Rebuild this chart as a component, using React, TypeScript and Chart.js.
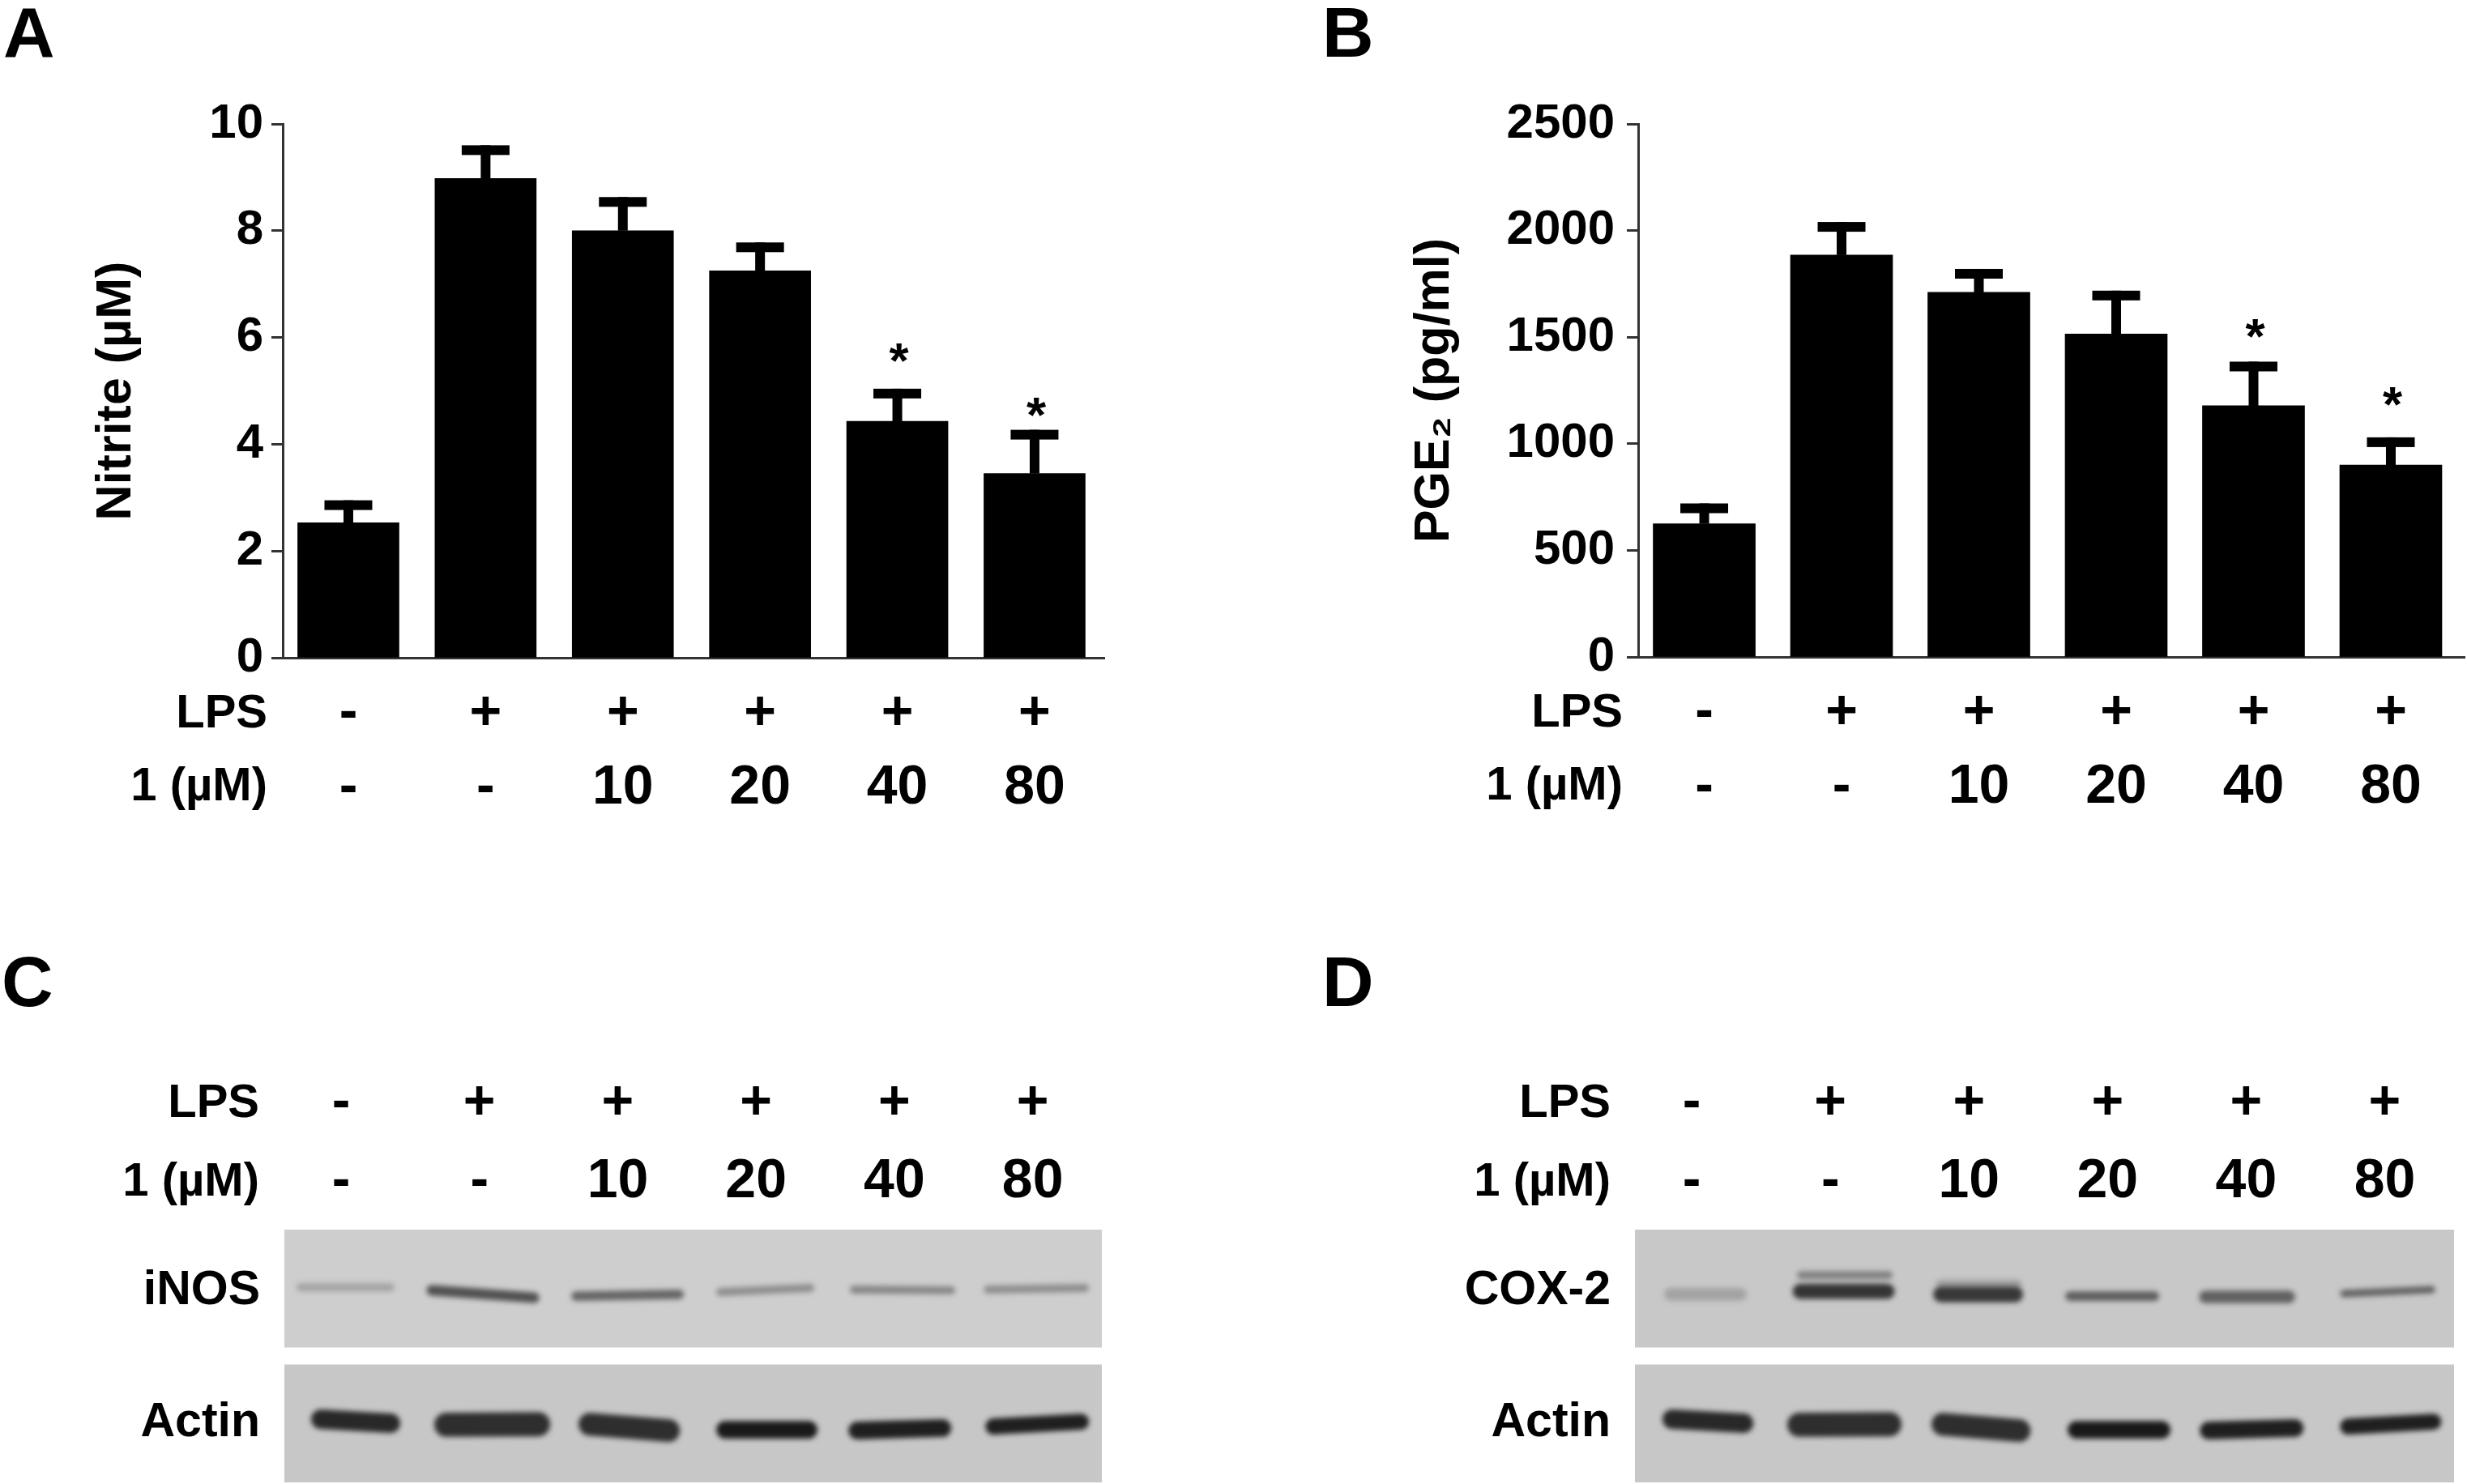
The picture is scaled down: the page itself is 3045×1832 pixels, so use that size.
import React, { useEffect, useRef } from "react";
import { Chart, registerables } from "chart.js";

Chart.register(...registerables);

const FONT = '"Liberation Sans", Arial, sans-serif';

const lanes = [1, 2, 3, 4, 5, 6];
const lpsRow = ["-", "+", "+", "+", "+", "+"];
const doseRow = ["-", "-", "10", "20", "40", "80"];

const nitriteMean = [2.53, 8.98, 8.0, 7.25, 4.43, 3.45];
const nitriteUpper = [2.95, 9.6, 8.63, 7.78, 5.04, 4.27];
const nitriteStars = [null, null, null, null, 5.8, 4.78];
const nitriteTicks = [0, 2, 4, 6, 8, 10];

const pgeMean = [625, 1885, 1710, 1515, 1178, 900];
const pgeUpper = [720, 2040, 1820, 1718, 1385, 1030];
const pgeStars = [null, null, null, null, 1561, 1243];

// Blot bands: lane position start/end, migration level start/end, band spread, density
const inosStart = [0.707, 1.656, 2.699, 3.742, 4.708, 5.675];
const inosEnd = [1.357, 2.394, 3.443, 4.392, 5.411, 6.378];
const inosLevelA = [77.2, 76, 73.7, 75.3, 76.3, 76.3];
const inosLevelB = [77.2, 73.1, 74.4, 76.9, 76, 76.9];
const inosSpread = [3.2, 4.2, 3.8, 3.2, 3.2, 3.2];
const inosDensity = [0.28, 0.68, 0.58, 0.38, 0.42, 0.38];

const actinCStart = [0.854, 1.762, 2.799, 3.777, 4.732, 5.716];
const actinCEnd = [1.357, 2.424, 3.367, 4.38, 5.347, 6.349];
const actinLevelA = [25, 22.8, 23, 20.8, 20.5, 22.1];
const actinLevelB = [23.4, 23, 20.5, 20.8, 21.5, 24];
const actinSpread = [7.7, 9.6, 9, 7, 7, 6.4];
const actinDensity = [0.88, 0.85, 0.85, 0.95, 0.92, 0.92];

const coxStart = [0.847, 1.783, 1.789, 2.8, 2.794, 3.73, 4.706, 5.705];
const coxEnd = [1.35, 2.409, 2.42, 3.332, 3.35, 4.338, 5.308, 6.338];
const coxLevelA = [74.4, 75.6, 82, 74.4, 78.5, 73.7, 73.4, 74.7];
const coxLevelB = [74.4, 75.6, 82, 74.4, 78.5, 73.7, 73.4, 76.3];
const coxSpread = [5, 6, 3.2, 6.4, 3.2, 3.8, 5, 2.9];
const coxDensity = [0.28, 0.82, 0.45, 0.8, 0.3, 0.62, 0.6, 0.6];

const actinDStart = [0.859, 1.777, 2.812, 3.776, 4.73, 5.736];
const actinDEnd = [1.374, 2.426, 3.362, 4.39, 5.35, 6.35];

const AXIS = "#333333";

function textPlugin(id: string, items: any[]) {
  return {
    id,
    afterDraw(chart: any) {
      const { ctx, chartArea } = chart;
      ctx.save();
      ctx.fillStyle = "#000";
      for (const it of items) {
        ctx.font = `bold ${it.size}px ${FONT}`;
        ctx.textAlign = it.align;
        ctx.textBaseline = it.baseline;
        const x = it.fromLeft !== undefined ? chartArea.left - it.fromLeft : it.x;
        const y =
          it.fromBottom !== undefined
            ? chartArea.bottom + it.fromBottom
            : it.fromTop !== undefined
            ? chartArea.top - it.fromTop
            : it.y;
        ctx.fillText(it.text, x, y);
      }
      ctx.restore();
    },
  };
}

const errorPlugin = {
  id: "errorBars",
  afterDatasetsDraw(chart: any) {
    const { ctx, scales } = chart;
    const o = chart.config.options.errorBars;
    ctx.save();
    ctx.fillStyle = "#000";
    o.mean.forEach((m: number, i: number) => {
      const x = scales.x.getPixelForValue(lanes[i]);
      const yTop = scales.y.getPixelForValue(o.upper[i]);
      const yBase = scales.y.getPixelForValue(m);
      ctx.fillRect(x - o.stem / 2, yTop, o.stem, yBase - yTop);
      ctx.fillRect(x - o.cap / 2, yTop, o.cap, o.capHeight);
      if (o.stars[i] !== null) {
        ctx.font = `bold 62px ${FONT}`;
        ctx.textAlign = "center";
        ctx.textBaseline = "alphabetic";
        ctx.fillText("*", x + 2, scales.y.getPixelForValue(o.stars[i]) + 36);
      }
    });
    ctx.restore();
  },
};

const blurPlugin = {
  id: "bandBlur",
  beforeDatasetDraw(chart: any, args: any) {
    if (args.meta.type !== "line") return;
    chart.ctx.save();
    chart.ctx.filter = "blur(3px)";
  },
  afterDatasetDraw(chart: any, args: any) {
    if (args.meta.type !== "line") return;
    chart.ctx.restore();
  },
};

function barChart(canvas: HTMLCanvasElement, p: any) {
  return new Chart(canvas, {
    type: "bar",
    data: {
      datasets: [
        {
          data: lanes.map((x, i) => ({ x, y: p.mean[i] })),
          backgroundColor: "#000",
          barThickness: p.barWidth,
        },
      ],
    },
    options: {
      animation: false,
      responsive: false,
      layout: { padding: { top: p.top, right: p.right, left: 0, bottom: 0 } },
      plugins: { legend: { display: false }, tooltip: { enabled: false } },
      errorBars: { mean: p.mean, upper: p.upper, stars: p.stars, stem: 12, cap: 59, capHeight: 12 },
      scales: {
        x: {
          type: "linear",
          offset: false,
          min: p.xMin,
          max: p.xMax,
          afterBuildTicks: (a: any) => {
            a.ticks = lanes.map((value) => ({ value }));
          },
          afterFit: (s: any) => {
            s.height = p.xHeight;
            s.paddingLeft = 0;
            s.paddingRight = 0;
          },
          grid: { display: false, drawTicks: false },
          border: { display: true, color: AXIS, width: 3 },
          ticks: {
            autoSkip: false,
            maxRotation: 0,
            padding: 23,
            color: "#000",
            font: { family: FONT, weight: "bold", size: 68, lineHeight: 92 / 68 },
            callback: (v: number) => [lpsRow[v - 1], doseRow[v - 1]],
          },
        },
        y: {
          min: 0,
          max: p.yMax,
          afterFit: (s: any) => {
            s.width = p.yWidth;
            s.paddingTop = 0;
            s.paddingBottom = 0;
          },
          grid: { drawOnChartArea: false, tickLength: 14, tickWidth: 3, tickColor: AXIS },
          border: { display: true, color: AXIS, width: 3 },
          ticks: {
            stepSize: p.yStep,
            padding: p.tickPad,
            color: "#000",
            font: { family: FONT, weight: "bold", size: 60 },
            callback: (v: number) => String(v),
          },
          title: {
            display: true,
            text: p.title,
            color: "#000",
            padding: { top: p.titlePad, bottom: 0 },
            font: { family: FONT, weight: "bold", size: 61 },
          },
        },
      },
    } as any,
    plugins: [errorPlugin, textPlugin("labels", p.texts)],
  });
}

function bandSets(start: number[], end: number[], a: number[], b: number[], spread: number[], density: number[]) {
  return start.map((s, i) => {
    const g = Math.round(205 * (1 - density[i]) + 15);
    return {
      type: "line",
      order: 1,
      data: [
        { x: s, y: a[i] },
        { x: end[i], y: b[i] },
      ],
      borderColor: `rgb(${g},${g},${g})`,
      borderWidth: spread[i] * 3.12,
      borderCapStyle: "round",
      pointRadius: 0,
    };
  });
}

function stripSet(levels: number[], color: string) {
  return {
    type: "bar",
    order: 2,
    grouped: false,
    data: [{ x: 3.545, y: levels }],
    backgroundColor: color,
    barThickness: 1040,
  };
}

function blotChart(canvas: HTMLCanvasElement, p: any) {
  return new Chart(canvas, {
    type: "bar",
    data: {
      datasets: [
        stripSet([53.5, 100], p.topColor),
        stripSet([0, 46.5], "#c7c7c7"),
        ...p.bands,
      ],
    },
    options: {
      animation: false,
      responsive: false,
      layout: { padding: { top: 0, right: p.right, left: 0, bottom: 2 } },
      plugins: { legend: { display: false }, tooltip: { enabled: false } },
      scales: {
        x: {
          type: "linear",
          offset: false,
          position: "top",
          min: 0.59,
          max: 6.5,
          afterBuildTicks: (a: any) => {
            a.ticks = lanes.map((value) => ({ value }));
          },
          afterFit: (s: any) => {
            s.height = 418;
            s.paddingLeft = 0;
            s.paddingRight = 0;
          },
          grid: { display: false, drawTicks: false },
          border: { display: false },
          ticks: {
            autoSkip: false,
            maxRotation: 0,
            padding: 10,
            color: "#000",
            font: { family: FONT, weight: "bold", size: 68, lineHeight: 97 / 68 },
            callback: (v: number) => [lpsRow[v - 1], doseRow[v - 1]],
          },
        },
        y: {
          min: 0,
          max: 100,
          afterBuildTicks: (a: any) => {
            a.ticks = [{ value: 23.4 }, { value: 75.6 }];
          },
          afterFit: (s: any) => {
            s.width = p.yWidth;
            s.paddingTop = 0;
            s.paddingBottom = 0;
          },
          grid: { display: false, drawTicks: false },
          border: { display: false },
          ticks: {
            padding: 30,
            color: "#000",
            font: { family: FONT, weight: "bold", size: 59 },
            callback: (_v: number, i: number) => ["Actin", p.blotName][i],
          },
        },
      },
    } as any,
    plugins: [blurPlugin, textPlugin("labels", p.texts)],
  });
}

const rowText = (fromLeft: number, b1: number, b2: number, top: boolean) =>
  [
    { text: "LPS", v: b1 },
    { text: "1 (µM)", v: b2 },
  ].map((r) => ({
    text: r.text,
    size: 58,
    align: "right",
    baseline: "middle",
    fromLeft,
    ...(top ? { fromTop: r.v } : { fromBottom: r.v }),
  }));

const letter = (text: string, x: number, y: number) => ({
  text,
  size: 88,
  align: "left",
  baseline: "alphabetic",
  x,
  y,
});

const box = (left: number, top: number, w: number, h: number): React.CSSProperties => ({
  position: "absolute",
  left,
  top,
  width: w,
  height: h,
  filter: "blur(0.7px)",
});

export default function App() {
  const a = useRef<HTMLCanvasElement>(null);
  const b = useRef<HTMLCanvasElement>(null);
  const c = useRef<HTMLCanvasElement>(null);
  const d = useRef<HTMLCanvasElement>(null);

  useEffect(() => {
    const charts = [
      barChart(a.current!, {
        mean: nitriteMean,
        upper: nitriteUpper,
        stars: nitriteStars,
        barWidth: 125,
        top: 153,
        right: 117,
        xMin: 0.522,
        xMax: 6.508,
        xHeight: 238,
        yWidth: 349,
        yMax: nitriteTicks[nitriteTicks.length - 1],
        yStep: nitriteTicks[1],
        title: "Nitrite (µM)",
        titlePad: 108,
        tickPad: 10,
        texts: [letter("A", 4, 70), ...rowText(19, 70, 160, false)],
      }),
      barChart(b.current!, {
        mean: pgeMean,
        upper: pgeUpper,
        stars: pgeStars,
        barWidth: 126,
        top: 153,
        right: 3,
        xMin: 0.519,
        xMax: 6.537,
        xHeight: 239,
        yWidth: 422,
        yMax: 2500,
        yStep: 500,
        title: "PGE₂ (pg/ml)",
        titlePad: 135,
        tickPad: 15,
        texts: [letter("B", 32, 70), ...rowText(19, 70, 160, false)],
      }),
      blotChart(c.current!, {
        blotName: "iNOS",
        topColor: "#cecece",
        right: 120,
        yWidth: 351,
        bands: [
          ...bandSets(inosStart, inosEnd, inosLevelA, inosLevelB, inosSpread, inosDensity),
          ...bandSets(actinCStart, actinCEnd, actinLevelA, actinLevelB, actinSpread, actinDensity),
        ],
        texts: [letter("C", 2, 142), ...rowText(31, 155, 58, true)],
      }),
      blotChart(d.current!, {
        blotName: "COX-2",
        topColor: "#c8c8c8",
        right: 16,
        yWidth: 418,
        bands: [
          ...bandSets(coxStart, coxEnd, coxLevelA, coxLevelB, coxSpread, coxDensity),
          ...bandSets(actinDStart, actinDEnd, actinLevelA, actinLevelB, actinSpread, actinDensity),
        ],
        texts: [letter("D", 32, 142), ...rowText(30, 155, 58, true)],
      }),
    ];
    return () => charts.forEach((ch) => ch.destroy());
  }, []);

  return (
    <div style={{ position: "fixed", left: 0, top: 0, width: 3045, height: 1832, background: "#fff", overflow: "hidden" }}>
      <canvas ref={a} width={1480} height={1050} style={box(0, 0, 1480, 1050)} />
      <canvas ref={b} width={1445} height={1050} style={box(1600, 0, 1445, 1050)} />
      <canvas ref={c} width={1480} height={732} style={box(0, 1100, 1480, 732)} />
      <canvas ref={d} width={1445} height={732} style={box(1600, 1100, 1445, 732)} />
    </div>
  );
}
